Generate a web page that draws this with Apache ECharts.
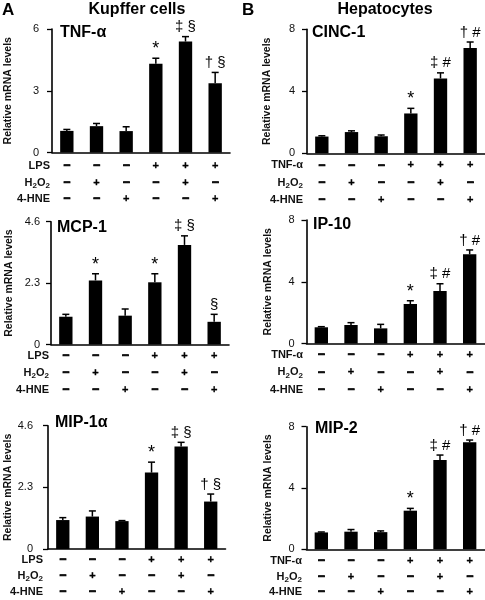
<!DOCTYPE html>
<html><head><meta charset="utf-8">
<script src="https://cdn.jsdelivr.net/npm/echarts@6/dist/echarts.min.js"></script>
<style>html,body{margin:0;padding:0;background:#fff}#c{width:485px;height:600px}</style>
</head><body><div id="c"></div>
<script>
// ---------- data ----------
const categories = ['Control', 'H2O2', '4-HNE', 'Stim', 'Stim+H2O2', 'Stim+4-HNE'];
const stimSigns = ['−', '−', '−', '+', '+', '+'];
const h2o2Signs = ['−', '+', '−', '−', '+', '−'];
const hneSigns  = ['−', '−', '+', '−', '−', '+'];
const kupfferRowLabels = ['LPS', 'H2O2', '4-HNE'];
const hepRowLabels = ['TNF-α', 'H2O2', '4-HNE'];

const tnfMean = [1.05, 1.28, 1.04, 4.31, 5.39, 3.37];
const tnfErr  = [0.07, 0.13, 0.21, 0.27, 0.24, 0.52];
const tnfMarks = ['', '', '', '*', '‡ §', '† §'];

const cincMean = [1.08, 1.37, 1.10, 2.57, 4.83, 6.80];
const cincErr  = [0.05, 0.08, 0.08, 0.33, 0.36, 0.38];
const cincMarks = ['', '', '', '*', '‡ #', '† #'];

const mcpMean = [1.04, 2.40, 1.08, 2.33, 3.73, 0.85];
const mcpErr  = [0.09, 0.25, 0.25, 0.32, 0.34, 0.28];
const mcpMarks = ['', '*', '', '*', '‡ §', '§'];

const ipMean = [1.05, 1.20, 0.98, 2.56, 3.40, 5.78];
const ipErr  = [0.04, 0.15, 0.26, 0.21, 0.47, 0.28];
const ipMarks = ['', '', '', '*', '‡ #', '† #'];

const mip1Mean = [1.08, 1.21, 1.04, 2.85, 3.82, 1.77];
const mip1Err  = [0.09, 0.21, 0.02, 0.39, 0.16, 0.28];
const mip1Marks = ['', '', '', '*', '‡ §', '† §'];

const mip2Mean = [1.10, 1.15, 1.12, 2.52, 5.83, 6.98];
const mip2Err  = [0.03, 0.14, 0.08, 0.15, 0.32, 0.15];
const mip2Marks = ['', '', '', '*', '‡ #', '† #'];

const kupfferAxisMax = 6, kupfferAxisStep = 3;     // TNF-α
const kupfferAxisMax2 = 4.6, kupfferAxisStep2 = 2.3; // MCP-1, MIP-1α
const hepAxisMax = 8, hepAxisStep = 4;

const yName = 'Relative mRNA levels';

// ---------- layout ----------
const FONT = 'Arial, "Liberation Sans", sans-serif';
const panels = [
  {title: 'TNF-α', mean: tnfMean, err: tnfErr, marks: tnfMarks, max: kupfferAxisMax, step: kupfferAxisStep, rows: kupfferRowLabels,
   left: 52, top: 29, width: 178, height: 123.5, nameGap: 38, labelMargin: 13, rowOff: 13.5, rowGap: 16.5, rowX: 50, titleX: 60, titleY: 33},
  {title: 'CINC-1', mean: cincMean, err: cincErr, marks: cincMarks, max: hepAxisMax, step: hepAxisStep, rows: hepRowLabels,
   left: 307, top: 29.3, width: 178, height: 124, nameGap: 34, labelMargin: 12, rowOff: 12, rowGap: 17.3, rowX: 303, titleX: 312, titleY: 33},
  {title: 'MCP-1', mean: mcpMean, err: mcpErr, marks: mcpMarks, max: kupfferAxisMax2, step: kupfferAxisStep2, rows: kupfferRowLabels,
   left: 51, top: 221.7, width: 178, height: 122.8, nameGap: 36, labelMargin: 11, rowOff: 11.5, rowGap: 17, rowX: 49, titleX: 57, titleY: 228},
  {title: 'IP-10', mean: ipMean, err: ipErr, marks: ipMarks, max: hepAxisMax, step: hepAxisStep, rows: hepRowLabels,
   left: 306.5, top: 220, width: 178, height: 123.5, nameGap: 33, labelMargin: 12, rowOff: 11.5, rowGap: 17.3, rowX: 303, titleX: 313, titleY: 225},
  {title: 'MIP-1α', mean: mip1Mean, err: mip1Err, marks: mip1Marks, max: kupfferAxisMax2, step: kupfferAxisStep2, rows: kupfferRowLabels,
   left: 48, top: 425.7, width: 177.5, height: 123.3, nameGap: 30, labelMargin: 15, rowOff: 10.5, rowGap: 16.3, rowX: 43, titleX: 55, titleY: 423},
  {title: 'MIP-2', mean: mip2Mean, err: mip2Err, marks: mip2Marks, max: hepAxisMax, step: hepAxisStep, rows: hepRowLabels,
   left: 306.5, top: 426.7, width: 178, height: 122.6, nameGap: 33, labelMargin: 12, rowOff: 11.7, rowGap: 15.5, rowX: 302, titleX: 315, titleY: 429}
];

const grid = [], xAxis = [], yAxis = [], series = [], graphic = [];

function signRich(gap) {
  return {
    m: {fontSize: 12, fontWeight: 'bold', lineHeight: gap, color: '#000', fontFamily: FONT, textBorderColor: '#000', textBorderWidth: 0.9},
    p: {fontSize: 11, fontWeight: 'bold', lineHeight: gap, color: '#000', fontFamily: FONT, textBorderColor: '#000', textBorderWidth: 0.3}
  };
}
const tag = s => (s === '+' ? '{p|+}' : '{m|−}');

function rowLabelText(label) {
  if (label === 'H2O2') return '{a|H}{s|2}{a|O}{s|2}';
  return '{a|' + label + '}';
}

panels.forEach((p, gi) => {
  grid.push({left: p.left, top: p.top, width: p.width, height: p.height, containLabel: false});
  xAxis.push({
    type: 'category', gridIndex: gi, data: categories, boundaryGap: true,
    axisLine: {lineStyle: {color: '#000', width: 1.6}},
    axisTick: {show: false},
    axisLabel: {
      interval: 0, margin: p.rowOff - p.rowGap / 2,
      formatter: (v, i) => [tag(stimSigns[i]), tag(h2o2Signs[i]), tag(hneSigns[i])].join('\n'),
      rich: signRich(p.rowGap)
    }
  });
  yAxis.push({
    type: 'value', gridIndex: gi, min: 0, max: p.max, interval: p.step,
    axisLine: {show: true, lineStyle: {color: '#000', width: 1.6}},
    axisTick: {show: true, length: 5, inside: false, lineStyle: {color: '#000', width: 1.3}},
    axisLabel: {color: '#111', fontSize: 11, fontFamily: FONT, margin: p.labelMargin},
    splitLine: {show: false},
    name: yName, nameLocation: 'middle', nameGap: p.nameGap,
    nameTextStyle: {fontSize: 10.5, fontWeight: 'bold', color: '#111', fontFamily: FONT}
  });
  series.push({
    type: 'bar', xAxisIndex: gi, yAxisIndex: gi, barWidth: '45%',
    itemStyle: {color: '#000'}, data: p.mean, silent: true, animation: false
  });
  series.push({
    type: 'custom', xAxisIndex: gi, yAxisIndex: gi, z: 5, silent: true, animation: false,
    data: p.mean.map((m, i) => [i, m, p.err[i]]),
    renderItem: (params, api) => {
      const i = api.value(0), m = api.value(1), e = api.value(2);
      const base = api.coord([i, m]);
      const top = api.coord([i, m + e]);
      const txt = p.marks[params.dataIndex];
      const children = [
        {type: 'line', shape: {x1: base[0], y1: base[1], x2: top[0], y2: top[1]}, style: {stroke: '#000', lineWidth: 1.5}},
        {type: 'line', shape: {x1: top[0] - 3.5, y1: top[1], x2: top[0] + 3.5, y2: top[1]}, style: {stroke: '#000', lineWidth: 1.5}}
      ];
      if (txt) {
        const star = txt === '*';
        children.push({type: 'text', style: {text: txt, x: top[0], y: top[1] - (star ? 0 : 2), align: 'center', verticalAlign: 'bottom',
          textAlign: 'center', textVerticalAlign: 'bottom', font: (star ? '18px ' : '15px ') + FONT, fill: '#000'}});
      }
      return {type: 'group', children};
    }
  });
  // panel title
  graphic.push({type: 'text', x: p.titleX, y: p.titleY, style: {text: p.title, font: 'bold 16px ' + FONT, fill: '#000',
    align: 'left', verticalAlign: 'middle', textAlign: 'left', textVerticalAlign: 'middle'}});
  // row labels
  const axisY = p.top + p.height;
  p.rows.forEach((r, k) => {
    graphic.push({type: 'text', x: p.rowX, y: axisY + p.rowOff + k * p.rowGap, style: {
      text: rowLabelText(r), align: 'right', verticalAlign: 'middle', textAlign: 'right', textVerticalAlign: 'middle',
      rich: {
        a: {fontSize: 11, fontWeight: 'bold', fontFamily: FONT, fill: '#111', color: '#111', lineHeight: 14},
        s: {fontSize: 8, fontWeight: 'bold', fontFamily: FONT, fill: '#111', color: '#111', lineHeight: 8, verticalAlign: 'bottom', padding: [5, 0, 0, 0]}
      }
    }});
  });
});

// section headers
graphic.push({type: 'text', x: 2, y: 10, style: {text: 'A', font: 'bold 17px ' + FONT, fill: '#000', verticalAlign: 'middle', textVerticalAlign: 'middle'}});
graphic.push({type: 'text', x: 137, y: 10, style: {text: 'Kupffer cells', font: 'bold 16px ' + FONT, fill: '#000', align: 'center', verticalAlign: 'middle', textAlign: 'center', textVerticalAlign: 'middle'}});
graphic.push({type: 'text', x: 242, y: 10, style: {text: 'B', font: 'bold 17px ' + FONT, fill: '#000', verticalAlign: 'middle', textVerticalAlign: 'middle'}});
graphic.push({type: 'text', x: 385, y: 10, style: {text: 'Hepatocytes', font: 'bold 16px ' + FONT, fill: '#000', align: 'center', verticalAlign: 'middle', textAlign: 'center', textVerticalAlign: 'middle'}});

const chart = echarts.init(document.getElementById('c'), null, {renderer: 'canvas'});
chart.setOption({animation: false, backgroundColor: '#fff', grid, xAxis, yAxis, series, graphic});
</script></body></html>
